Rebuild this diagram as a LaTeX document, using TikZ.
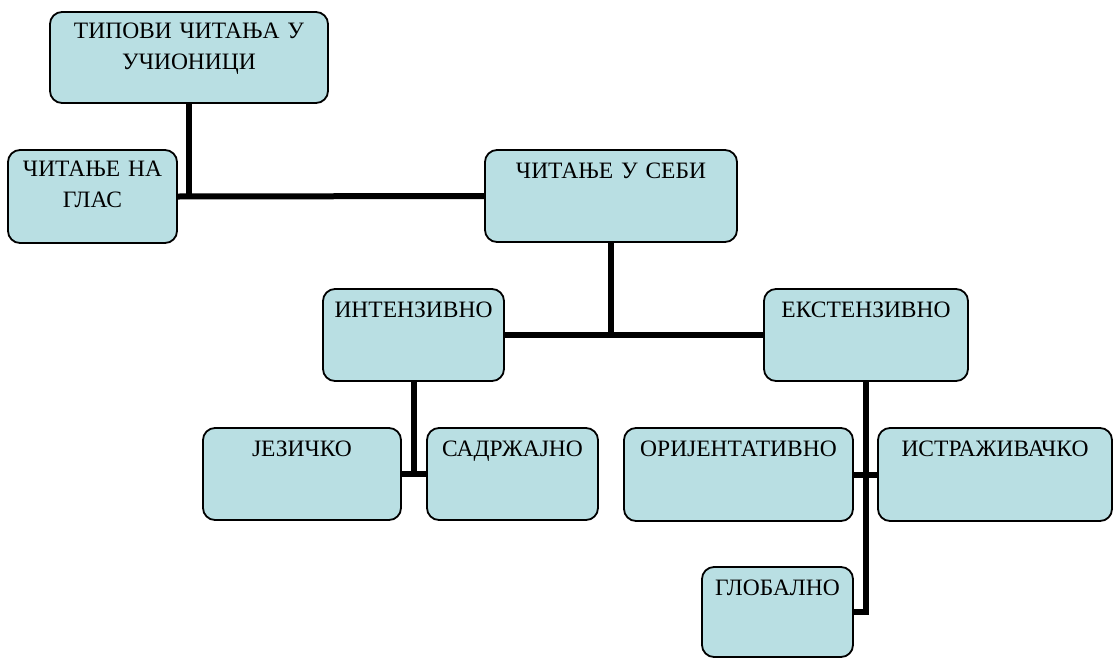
\documentclass[tikz,border=0pt]{standalone}
\usepackage{fontspec}
\setmainfont{Liberation Serif}
\definecolor{boxfill}{RGB}{185,223,227}
\begin{document}
\begin{tikzpicture}[x=1pt,y=-1pt,
  box/.style={draw, line width=1.8pt, rounded corners=12pt, fill=boxfill,
    anchor=north west, inner xsep=0pt, inner ysep=0pt, outer sep=0pt,
    align=center, font=\fontsize{23.5}{31}\selectfont, text height=28pt},
  link/.style={line width=6pt}]
\useasboundingbox (0,0) rectangle (1114,659);
\node[box, text width=278pt, text height=26pt, text depth=65pt] (top) at (50,12) {ТИПОВИ ЧИТАЊА У\\УЧИОНИЦИ};
\node[box, text width=169pt, text height=26pt, text depth=67pt] (glas) at (8,150) {ЧИТАЊЕ НА\\ГЛАС};
\node[box, text width=252pt, text depth=64pt] (sebi) at (485,150) {ЧИТАЊЕ У СЕБИ};
\node[box, text width=181pt, text depth=64pt] (int) at (323,289) {ИНТЕНЗИВНО};
\node[box, text width=204pt, text depth=64pt] (ext) at (764,289) {ЕКСТЕНЗИВНО};
\node[box, text width=198pt, text depth=64pt] (jez) at (203,428) {ЈЕЗИЧКО};
\node[box, text width=171pt, text depth=64pt] (sad) at (427,428) {САДРЖАЈНО};
\node[box, text width=229pt, text depth=65pt] (ori) at (624,428) {ОРИЈЕНТАТИВНО};
\node[box, text width=234pt, text depth=65pt] (ist) at (878,428) {ИСТРАЖИВАЧКО};
\node[box, text width=151pt, text depth=62pt] (glob) at (702,567) {ГЛОБАЛНО};
\coordinate (j1) at (top.south |- glas.east);
\coordinate (j2) at (sebi.south |- int.east);
\coordinate (j3) at (int.south |- jez.east);
\coordinate (j4) at (ext.south |- glob.east);
\draw[link] (top.south) -- (j1);
\draw[link] (glas.east) -- (sebi.west);
\draw[link] (sebi.south) -- (j2);
\draw[link] (int.east) -- (ext.west);
\draw[link] (int.south) -- (j3);
\draw[link] (jez.east) -- (sad.west);
\draw[link] (ext.south) -- (j4) -- (glob.east);
\draw[link] (ori.east) -- (ist.west);
\end{tikzpicture}
\end{document}
